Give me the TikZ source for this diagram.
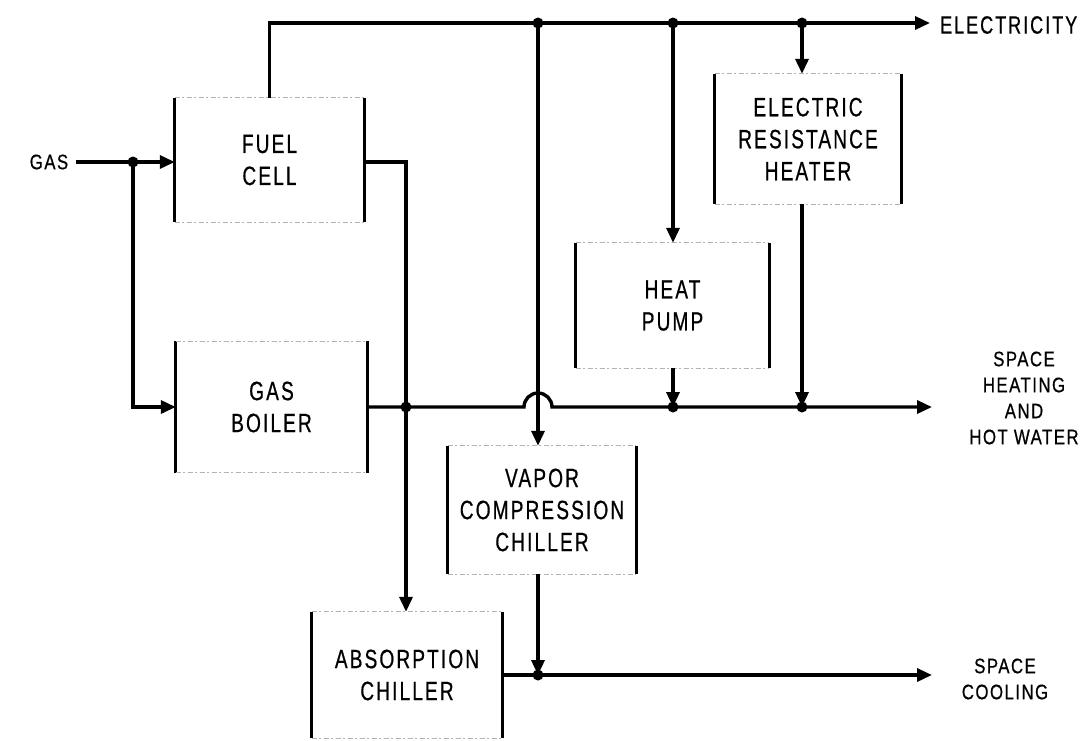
\documentclass[tikz,border=0pt]{standalone}
\usepackage{fontspec}
\usetikzlibrary{arrows.meta}
\newfontfamily\boxfont[FakeStretch=0.72,LetterSpace=8,FakeBold=0.6]{Liberation Sans}
\newfontfamily\lblfont[FakeStretch=0.8,LetterSpace=7,FakeBold=0.6]{Liberation Sans}
\begin{document}
\begin{tikzpicture}[x=1pt,y=-1pt,
  flow/.style={line width=3.4pt},
  arr/.style={flow,-{Triangle[length=15pt,width=13pt]}},
  jdot/.style={circle,fill,inner sep=0pt,minimum size=11pt},
  unit/.style={inner sep=0pt,align=center,font=\boxfont\fontsize{26.5}{32}\selectfont},
  elecfont/.style={inner sep=0pt,font=\boxfont\fontsize{25}{31}\selectfont},
  lbl/.style={inner sep=0pt,align=center,font=\lblfont\fontsize{21}{26}\selectfont},
  side/.style={line width=3pt},
  edgeline/.style={line width=1.2pt,gray!60,dash pattern=on 5pt off 2pt on 2pt off 3pt}]
\useasboundingbox (0,0) rectangle (1086,740);

% units
\node[unit,minimum width=189pt,minimum height=124pt] (fuel) at (269.5,160) {FUEL\\CELL};
\node[unit,minimum width=191pt,minimum height=131pt] (boiler) at (271.5,407) {GAS\\BOILER};
\node[unit,minimum width=186pt,minimum height=130pt] (erh) at (808,139) {ELECTRIC\\RESISTANCE\\HEATER};
\node[unit,minimum width=193pt,minimum height=125pt] (hp) at (672.5,305.5) {HEAT\\PUMP};
\node[unit,minimum width=188pt,minimum height=128pt] (vcc) at (542,510) {VAPOR\\COMPRESSION\\CHILLER};
\node[unit,minimum width=190pt,minimum height=126pt] (abs) at (407,675) {ABSORPTION\\CHILLER};

\foreach \n in {fuel,boiler,erh,hp,vcc,abs}{
  \draw[side] (\n.north west) -- (\n.south west);
  \draw[side] (\n.north east) -- (\n.south east);
  \draw[edgeline] (\n.north west) -- (\n.north east);
  \draw[edgeline] (\n.south west) -- (\n.south east);
}

% labels
\node[lbl] (gas) at (49,162) {GAS};
\node[elecfont,anchor=west] (elec) at (940,25) {ELECTRICITY};
\node[lbl] (heat) at (1024,398) {SPACE\\HEATING\\AND\\HOT WATER};
\node[lbl] (cool) at (1005,679) {SPACE\\COOLING};

% junctions
\coordinate (jg) at (133,162);
\coordinate (e1) at (538,23);
\coordinate (e2) at (673,23);
\coordinate (e3) at (802,23);
\coordinate (eout) at (930,23);
\coordinate (jb) at (406,407);
\coordinate (h1) at (673,407);
\coordinate (h2) at (802,407);
\coordinate (hout) at (932,407);
\coordinate (c1) at (538,675);
\coordinate (cout) at (932,675);

% gas
\draw[arr] ([xshift=8pt]gas.east) -- (fuel.west |- jg);
\draw[arr] (jg) |- (boiler.west);

% electricity
\draw[arr] (fuel.north) |- (eout);
\draw[arr] (e1) -- (e1 |- vcc.north);
\draw[arr] (e2) -- (e2 |- hp.north);
\draw[arr] (e3) -- (e3 |- erh.north);

% fuel cell heat to absorption chiller
\draw[arr] (fuel.east |- jg) -| (jb |- abs.north);

% space heating
\draw[arr] (boiler.east) -- ([xshift=-14pt]e1 |- jb) arc[start angle=180,end angle=0,radius=14pt] -- (hout);
\draw[arr] (h1 |- hp.south) -- (h1);
\draw[arr] (h2 |- erh.south) -- (h2);

% space cooling
\draw[arr] (c1 |- vcc.south) -- (c1);
\draw[arr] (abs.east) -- (cout);

% dots
\foreach \p in {jg,e1,e2,e3,jb,h1,h2,c1}{
  \node[jdot] at (\p) {};
}
\end{tikzpicture}
\end{document}
